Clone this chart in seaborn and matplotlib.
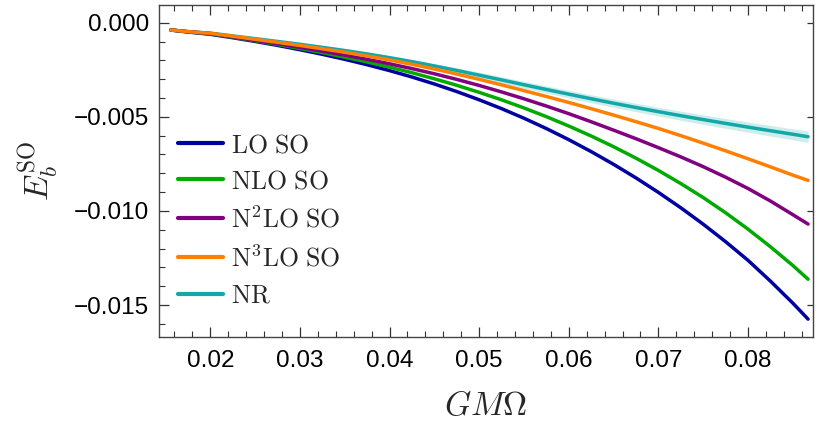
import numpy as np
import pandas as pd
import matplotlib
matplotlib.use("Agg")
import matplotlib.pyplot as plt
from matplotlib.ticker import MultipleLocator, FuncFormatter, NullLocator, FixedLocator
from matplotlib.lines import Line2D
import seaborn as sns

# Orbital frequency GM*Omega
gm_omega = [0.0156, 0.0175, 0.0200, 0.0225, 0.0250, 0.0275, 0.0300, 0.0325, 0.0350, 0.0375,
            0.0400, 0.0425, 0.0450, 0.0475, 0.0500, 0.0525, 0.0550, 0.0575, 0.0600, 0.0625,
            0.0650, 0.0675, 0.0700, 0.0725, 0.0750, 0.0775, 0.0800, 0.0825, 0.0850, 0.0867]

# Spin-orbit binding energy at successive PN orders
e_lo = [-0.000388, -0.000495, -0.000616, -0.000799, -0.000996, -0.001207, -0.001436, -0.001680,
        -0.001946, -0.002234, -0.002546, -0.002886, -0.003256, -0.003659, -0.004096, -0.004566,
        -0.005076, -0.005625, -0.006216, -0.006849, -0.007526, -0.008247, -0.009016, -0.009834,
        -0.010706, -0.011636, -0.012626, -0.013730, -0.014900, -0.015750]
e_nlo = [-0.000388, -0.000485, -0.000590, -0.000770, -0.000960, -0.001159, -0.001370, -0.001592,
         -0.001830, -0.002085, -0.002360, -0.002658, -0.002980, -0.003326, -0.003700, -0.004099,
         -0.004530, -0.004992, -0.005490, -0.006020, -0.006590, -0.007198, -0.007850, -0.008547,
         -0.009290, -0.010100, -0.010970, -0.011905, -0.012900, -0.013630]
e_n2lo = [-0.000388, -0.000480, -0.000574, -0.000751, -0.000934, -0.001121, -0.001314, -0.001514,
          -0.001724, -0.001946, -0.002184, -0.002439, -0.002714, -0.003013, -0.003334, -0.003679,
          -0.004044, -0.004429, -0.004834, -0.005264, -0.005710, -0.006165, -0.006640, -0.007130,
          -0.007650, -0.008210, -0.008810, -0.009475, -0.010200, -0.010700]
e_n3lo = [-0.000388, -0.000475, -0.000563, -0.000720, -0.000880, -0.001043, -0.001210, -0.001386,
          -0.001570, -0.001769, -0.001980, -0.002211, -0.002460, -0.002727, -0.003010, -0.003304,
          -0.003610, -0.003921, -0.004240, -0.004570, -0.004910, -0.005260, -0.005620, -0.006002,
          -0.006400, -0.006809, -0.007230, -0.007660, -0.008100, -0.008380]
e_nr = [-0.000388, -0.000470, -0.000558, -0.000703, -0.000848, -0.000996, -0.001148, -0.001310,
        -0.001478, -0.001661, -0.001858, -0.002070, -0.002298, -0.002537, -0.002788, -0.003041,
        -0.003298, -0.003549, -0.003798, -0.004041, -0.004278, -0.004507, -0.004728, -0.004942,
        -0.005148, -0.005351, -0.005548, -0.005740, -0.005928, -0.006058]
# Half-width of the numerical-relativity error band
e_nr_err = [0.00001, 0.000015, 0.00002, 0.00003, 0.00004, 0.00005, 0.00006, 0.00007, 0.00008,
            0.00009, 0.00010, 0.00011, 0.00012, 0.00014, 0.00016, 0.00017, 0.00018, 0.00019,
            0.00020, 0.00021, 0.00022, 0.000225, 0.00023, 0.00024, 0.00025, 0.00026, 0.00027,
            0.00028, 0.00029, 0.00030]

labels = [r"$\mathrm{LO\ SO}$", r"$\mathrm{NLO\ SO}$", r"$\mathrm{N^{2}LO\ SO}$",
          r"$\mathrm{N^{3}LO\ SO}$", r"$\mathrm{NR}$"]
colors = ["#0000a0", "#00aa00", "#800080", "#ff8000", "#12a8a8"]
band_color = "#cdecec"

x_ticks = [0.02, 0.03, 0.04, 0.05, 0.06, 0.07, 0.08]
y_ticks = [0.0, -0.005, -0.010, -0.015]

sns.set_theme(style="ticks")
plt.rcParams["font.family"] = ["Liberation Sans", "DejaVu Sans"]
plt.rcParams["mathtext.fontset"] = "cm"
plt.rcParams["axes.unicode_minus"] = True

series = {labels[0]: e_lo, labels[1]: e_nlo, labels[2]: e_n2lo,
          labels[3]: e_n3lo, labels[4]: e_nr}
df = pd.concat(
    [pd.DataFrame({"x": gm_omega, "E": vals, "order": name}) for name, vals in series.items()],
    ignore_index=True)
palette = dict(zip(labels, colors))
draw_order = [labels[4], labels[0], labels[1], labels[2], labels[3]]

fig = plt.figure(figsize=(8.17, 4.23), dpi=100)
ax = fig.add_axes([0.1946, 0.2033, 0.8005, 0.7849])

nr = np.array(e_nr)
err = np.array(e_nr_err)
ax.fill_between(gm_omega, nr - err, nr + err, color=band_color, lw=0, zorder=1)
sns.lineplot(data=df, x="x", y="E", hue="order", hue_order=draw_order, palette=palette,
             lw=2.5, sort=False, legend=False, ax=ax, zorder=2)

ax.set_xlim(0.01428, 0.08725)
ax.set_ylim(-0.0167, 0.00094)

ax.xaxis.set_major_locator(FixedLocator(x_ticks))
ax.xaxis.set_minor_locator(MultipleLocator(0.002))
ax.yaxis.set_major_locator(FixedLocator(y_ticks))
ax.yaxis.set_minor_locator(MultipleLocator(0.001))
ax.xaxis.set_major_formatter(FuncFormatter(lambda v, p: f"{v:.2f}"))
ax.yaxis.set_major_formatter(FuncFormatter(lambda v, p: f"{v:.3f}".replace("-", "\u2212")
                                           if abs(v) > 1e-12 else "0.000"))

ax.tick_params(which="both", direction="in", bottom=True, left=True, top=True, right=False,
               colors="#333333", labelsize=17.5, labelcolor="black")
ax.tick_params(which="major", length=7.5, width=0.9)
ax.tick_params(which="minor", length=4, width=0.8)
ax.tick_params(axis="x", pad=9)
ax.tick_params(axis="y", pad=7)

sec = ax.secondary_yaxis("right")
sec.set_yticks(y_ticks)
sec.yaxis.set_minor_locator(NullLocator())
sec.tick_params(which="both", direction="in", length=4.5, width=0.9, labelright=False,
                colors="#333333")
sec.spines["right"].set_visible(False)

for s in ax.spines.values():
    s.set_color("#444444")
    s.set_linewidth(1.0)

ax.set_xlabel(r"$GM\Omega$", fontsize=24, labelpad=14)
ax.set_ylabel(r"$E_b^{\mathrm{SO}}$", fontsize=24, labelpad=10)

handles = [Line2D([], [], color=c, lw=3) for c in colors]
ax.legend(handles, labels, loc="upper left", bbox_to_anchor=(0.029, 0.614),
          frameon=False, fontsize=18.5, handlelength=1.75, handletextpad=0.3,
          labelspacing=0.48, borderpad=0, borderaxespad=0)

fig.savefig("out.png", dpi=100)
